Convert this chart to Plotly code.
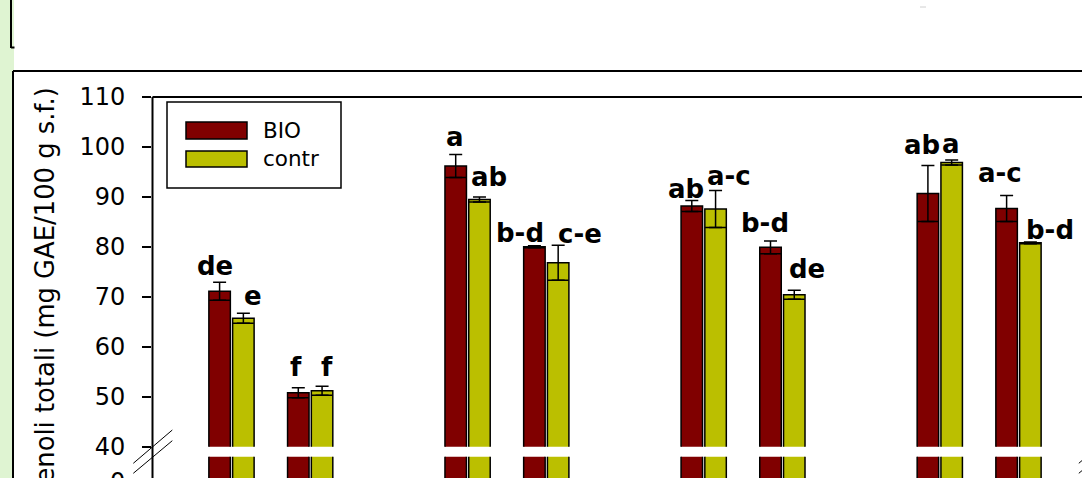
import plotly.graph_objects as go

# Sample slots on the category axis (empty slots separate the pairs)
slots = [0, 1, 3, 4, 6, 7, 9, 10]

bio = [71.1, 50.8, 96.2, 80.0, 88.2, 79.9, 90.7, 87.7]
bio_err = [1.8, 1.0, 2.3, 0.2, 1.1, 1.3, 5.6, 2.6]
bio_letters = ["de", "f", "a", "b-d", "ab", "b-d", "ab", "a-c"]

contr = [65.7, 51.2, 89.5, 76.8, 87.6, 70.4, 96.9, 80.8]
contr_err = [1.0, 0.9, 0.5, 3.5, 3.7, 0.9, 0.5, 0.2]
contr_letters = ["e", "f", "ab", "c-e", "a-c", "de", "a", "b-d"]

y_ticks = [40, 50, 60, 70, 80, 90, 100, 110]

# Letter placement nudges (pixels): horizontal shift and gap above the error cap
bio_dx = [-4.5, -2.5, -1, -14, -6, -5.5, -5.5, -6.5]
bio_gap = [7, 11, 8, 3, 2, 8, 11, 13]
contr_dx = [9.5, 4.5, 9.5, 21.5, 13.5, 12.5, -1, 19.5]
contr_gap = [8, 10, 10, 2, 5, 12, 6, 2]

BIO_COLOR = "#800000"
CONTR_COLOR = "#bbbf00"
FONT = "DejaVu Sans"

# Figure geometry in pixels
FW, FH = 1082, 478
L, T = 152, 97
W, PH = FW - L, FH - T


def px(x):
    return (x - L) / W


def py(y):
    return (FH - y) / PH


BW = 0.273      # bar width (category units)
HALF = 0.151    # distance of each bar centre from the slot

fig = go.Figure()

series = [
    (bio, bio_err, BIO_COLOR, -HALF),
    (contr, contr_err, CONTR_COLOR, HALF),
]

for vals, errs, color, shift in series:
    for axis in ("y", "y2"):
        fig.add_trace(go.Bar(
            x=slots, y=vals, width=BW, offset=shift - BW / 2,
            marker=dict(color=color, line=dict(color="black", width=1.5)),
            error_y=dict(type="data", array=errs, color="black",
                         thickness=1.5, width=6.5, visible=(axis == "y")),
            yaxis=axis, showlegend=False, hoverinfo="skip",
        ))
    # full-width lower whisker line
    fig.add_trace(go.Scatter(
        x=[s + shift for s in slots],
        y=[v - e for v, e in zip(vals, errs)],
        mode="markers",
        marker=dict(symbol="line-ew", size=15,
                    line=dict(color="black", width=1.5)),
        yaxis="y", showlegend=False, hoverinfo="skip",
    ))

annotations = []

# significance letters
for vals, errs, letters, dxs, gaps, shift in [
    (bio, bio_err, bio_letters, bio_dx, bio_gap, -HALF),
    (contr, contr_err, contr_letters, contr_dx, contr_gap, HALF),
]:
    for s, v, e, t, dx, g in zip(slots, vals, errs, letters, dxs, gaps):
        annotations.append(dict(
            x=s + shift, y=v + e, xref="x", yref="y", text=t,
            showarrow=False, xanchor="center", yanchor="bottom",
            xshift=dx, yshift=g - 7.5,
            font=dict(family=FONT, size=26, color="black", weight="bold"),
        ))

# y-axis title
annotations.append(dict(
    x=px(45), y=py(85), xref="paper", yref="paper",
    text="Fenoli totali (mg GAE/100 g s.f.)", textangle=-90,
    showarrow=False, xanchor="center", yanchor="top",
    font=dict(family=FONT, size=25.8, color="black"),
))

# zero label of the lower axis segment (sits at the bottom edge)
annotations.append(dict(
    x=px(127), y=py(482), xref="paper", yref="paper", text="0",
    showarrow=False, xanchor="right", yanchor="middle",
    font=dict(family=FONT, size=24, color="black"),
))

# legend texts
annotations.append(dict(
    x=px(261), y=py(130.5), xref="paper", yref="paper", text="BIO",
    showarrow=False, xanchor="left", yanchor="middle",
    font=dict(family=FONT, size=21.5, color="black"),
))
annotations.append(dict(
    x=px(261), y=py(158.7), xref="paper", yref="paper", text="contr",
    showarrow=False, xanchor="left", yanchor="middle",
    font=dict(family=FONT, size=21.5, color="black"),
))


def line(x0, y0, x1, y1, width=2, color="black"):
    return dict(type="line", xref="paper", yref="paper",
                x0=px(x0), y0=py(y0), x1=px(x1), y1=py(y1),
                line=dict(color=color, width=width))


def rect(x0, y0, x1, y1, fill, width=1.5, layer="above"):
    return dict(type="rect", xref="paper", yref="paper",
                x0=px(x0), y0=py(y0), x1=px(x1), y1=py(y1),
                fillcolor=fill, layer=layer,
                line=dict(color="black", width=width))


shapes = [
    # page decoration
    dict(type="rect", xref="paper", yref="paper",
         x0=px(0), x1=px(14), y0=py(FH), y1=py(0),
         fillcolor="#dff4d2", line=dict(width=0), layer="below"),
    line(11, 0, 11, 48),
    line(11, 47.5, 14.5, 47.5),
    line(13, 71, FW + 5, 71),
    line(13, 71, 13, FH + 5),
    line(920, 7, 926, 7, width=1, color="#d0d0d0"),
    # axis frame
    line(152.5, 97, 1098, 97),
    line(152.5, 97, 152.5, FH + 5),
    # axis break marks
    line(133.3, 463.3, 172.3, 430, width=1),
    line(133.3, 473.3, 172.3, 440.7, width=1),
    line(1078.8, 463.3, 1117.8, 430, width=1),
    line(1078.8, 473.3, 1117.8, 440.7, width=1),
    # legend
    rect(167, 102, 341, 188, "white"),
    rect(186, 122, 247, 139, BIO_COLOR),
    rect(186, 151, 247, 167, CONTR_COLOR),
]

fig.update_layout(
    width=FW, height=FH,
    margin=dict(l=L, r=0, t=T, b=0, pad=0, autoexpand=False),
    paper_bgcolor="white", plot_bgcolor="white",
    barmode="overlay",
    xaxis=dict(range=[-1.010, 10.807], visible=False, anchor="y2",
               fixedrange=True, automargin=False),
    yaxis=dict(domain=[py(446.7), 1], range=[40, 110], tickvals=y_ticks,
               ticks="outside", ticklen=9, tickwidth=1.5, tickcolor="black",
               showline=False, showgrid=False, zeroline=False,
               tickfont=dict(family=FONT, size=24, color="black"),
               ticklabelstandoff=12, anchor="x", automargin=False),
    yaxis2=dict(domain=[0, py(456.7)], range=[0.6, 4.87],
                showticklabels=False, ticks="", showline=False,
                showgrid=False, zeroline=False, anchor="x",
                automargin=False),
    annotations=annotations,
    shapes=shapes,
    showlegend=False,
)

fig.write_html("out.html")
